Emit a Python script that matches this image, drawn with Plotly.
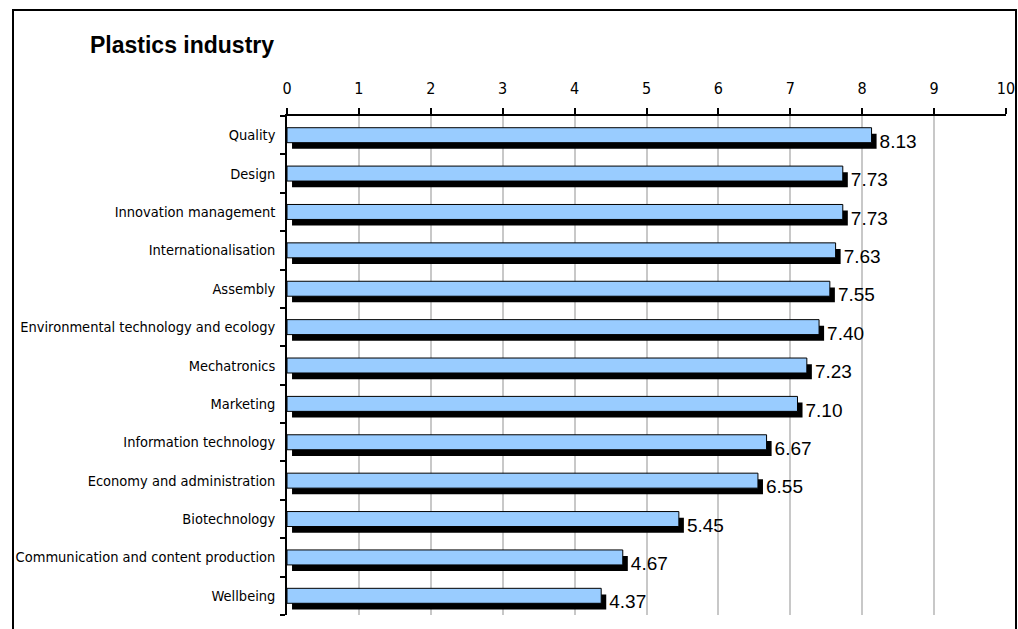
import plotly.graph_objects as go

categories = ["Quality", "Design", "Innovation management", "Internationalisation",
              "Assembly", "Environmental technology and ecology", "Mechatronics",
              "Marketing", "Information technology", "Economy and administration",
              "Biotechnology", "Communication and content production", "Wellbeing"]
values = [8.13, 7.73, 7.73, 7.63, 7.55, 7.40, 7.23, 7.10, 6.67, 6.55, 5.45, 4.67, 4.37]
x_ticks = list(range(0, 11))

positions = list(range(len(categories)))
narrow = "Liberation Sans Narrow, Arial Narrow, DejaVu Sans Condensed, sans-serif"
regular = "Liberation Sans, Arial, sans-serif"

shadow_dx = 0.07
shadow_dy = 0.16
bar_w = 0.39

W, H = 1018, 629
L, R, T, B = 287, 12, 116, 14
pw, ph = W - L - R, H - T - B

fig = go.Figure()
fig.add_trace(go.Bar(
    orientation="h",
    y=[p + shadow_dy for p in positions],
    x=values,
    base=shadow_dx,
    width=bar_w,
    marker=dict(color="black", line=dict(width=0)),
    text=[f"{v:.2f}" for v in values],
    textposition="outside",
    constraintext="none",
    textfont=dict(family=regular, size=19, color="black"),
    cliponaxis=False,
    hoverinfo="skip",
    showlegend=False,
))
fig.add_trace(go.Bar(
    orientation="h",
    y=positions,
    x=values,
    base=0,
    width=bar_w,
    marker=dict(color="#99CCFF", line=dict(color="black", width=1)),
    showlegend=False,
))

fig.update_layout(
    width=W, height=H,
    margin=dict(l=L, r=R, t=T, b=B, autoexpand=False),
    barmode="overlay",
    paper_bgcolor="white",
    plot_bgcolor="white",
    title=dict(text="<b>Plastics industry</b>", x=90 / W, xanchor="left",
               y=1 - 45 / H, yanchor="middle",
               font=dict(family=regular, size=23, color="black")),
    xaxis=dict(
        side="top", range=[0, 10], tickvals=x_ticks,
        ticktext=[str(t) for t in x_ticks],
        showgrid=True, gridcolor="#C8C8C8", gridwidth=2,
        showline=True, linecolor="black", linewidth=1.5,
        ticks="outside", ticklen=6, tickcolor="black", tickwidth=1.5,
        ticklabelstandoff=8,
        tickfont=dict(family=narrow, size=16, color="black"),
        zeroline=False, automargin=False,
    ),
    yaxis=dict(
        range=[len(categories) - 0.5, -0.5],
        tickvals=positions, ticktext=categories,
        ticks="outside", ticklen=7, tickcolor="rgba(0,0,0,0)",
        tickfont=dict(family=narrow, size=14.5, color="black"),
        showgrid=False, zeroline=False, automargin=False,
        showline=True, linecolor="black", linewidth=1.5,
        minor=dict(ticks="outside", ticklen=5, tickcolor="black", tickwidth=1.5,
                   tickvals=[p - 0.5 for p in positions] + [len(categories) - 0.5],
                   showgrid=False),
    ),
    shapes=[dict(type="rect", xref="paper", yref="paper",
                 x0=(13 - L) / pw, x1=(1016 - L) / pw,
                 y0=-0.1, y1=(H - B - 10) / ph,
                 line=dict(color="black", width=2), fillcolor="rgba(0,0,0,0)",
                 layer="below")],
)

fig.write_html(
    "out.html",
    config={"displayModeBar": False},
    post_script="document.body.style.margin='0';document.body.style.overflow='hidden';",
)
